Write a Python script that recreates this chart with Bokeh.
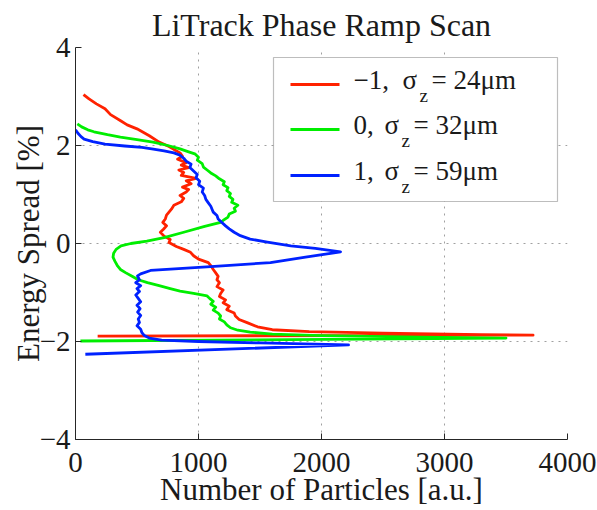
from bokeh.plotting import figure
from bokeh.models import Range1d, FixedTicker, BoxAnnotation, Label
from bokeh.embed import file_html
from bokeh.resources import INLINE

# ---------------- data ----------------
phase_labels = ["−1", "0", "1"]
sigma_um = [24, 32, 59]
colors = ["#ff2200", "#00ee00", "#0022ff"]

red_e = [3.04, 2.95, 2.85, 2.75, 2.63, 2.5, 2.42, 2.34, 2.2, 2.07, 1.98, 1.92, 1.85, 1.78,
         1.72, 1.65, 1.6, 1.55, 1.5, 1.45, 1.39, 1.33, 1.28, 1.22, 1.15, 1.1, 1.05, 0.98,
         0.92, 0.85, 0.78, 0.7, 0.64, 0.58, 0.5, 0.43, 0.36, 0.29, 0.23, 0.15, 0.08, 0.02,
         -0.06, -0.12, -0.18, -0.25, -0.32, -0.39, -0.45, -0.53, -0.6, -0.67, -0.74, -0.8,
         -0.88, -0.95, -1.02, -1.08, -1.15, -1.21, -1.28, -1.35, -1.42, -1.48, -1.55, -1.62,
         -1.7, -1.76, -1.8, -1.83, -1.86, -1.87, -1.89]
red_n = [65, 110, 170, 240, 285, 370, 420, 500, 600, 680, 760, 800, 850, 870,
         830, 900, 860, 920, 840, 880, 860, 980, 900, 940, 870, 920, 900, 850,
         880, 860, 800, 780, 760, 740, 730, 710, 740, 715, 690, 720, 770, 760,
         820, 880, 935, 960, 1000, 1080, 1100, 1120, 1140, 1160, 1150, 1170,
         1150, 1200, 1180, 1170, 1220, 1200, 1250, 1230, 1290, 1300, 1330, 1400,
         1480, 1600, 1900, 2500, 3300, 3720, 180]

green_e = [2.44, 2.38, 2.32, 2.28, 2.22, 2.17, 2.12, 2.07, 2.0, 1.93, 1.87, 1.83, 1.76,
           1.7, 1.63, 1.56, 1.5, 1.44, 1.38, 1.32, 1.26, 1.2, 1.14, 1.08, 1.02, 0.96,
           0.9, 0.84, 0.78, 0.72, 0.66, 0.6, 0.54, 0.47, 0.43, 0.35, 0.23, 0.12, 0.05,
           0.0, -0.05, -0.12, -0.2, -0.28, -0.36, -0.45, -0.53, -0.6, -0.67, -0.74, -0.8,
           -0.86, -0.92, -0.97, -1.02, -1.07, -1.12, -1.18, -1.24, -1.3, -1.36, -1.42,
           -1.48, -1.54, -1.6, -1.66, -1.72, -1.77, -1.81, -1.85, -1.88, -1.91, -1.93, -1.99]
green_n = [15, 50, 100, 150, 260, 365, 500, 630, 750, 850, 920, 970, 1000,
           990, 1030, 1040, 1070, 1100, 1140, 1170, 1210, 1200, 1240, 1230, 1260, 1250,
           1280, 1270, 1320, 1290, 1300, 1250, 1240, 1200, 1180, 1050, 880, 720, 580,
           450, 370, 330, 310, 305, 320, 340, 365, 410, 460, 510, 585,
           680, 770, 850, 960, 1070, 1090, 1120, 1100, 1140, 1120, 1160,
           1180, 1170, 1210, 1230, 1260, 1320, 1420, 1600, 2000, 2800, 3500, 40]

blue_e = [2.32, 2.25, 2.18, 2.13, 2.08, 2.03, 1.99, 1.96, 1.93, 1.89, 1.85, 1.8, 1.74,
          1.68, 1.62, 1.55, 1.48, 1.41, 1.34, 1.27, 1.2, 1.13, 1.05, 0.98, 0.9, 0.83,
          0.76, 0.7, 0.64, 0.57, 0.5, 0.43, 0.36, 0.3, 0.23, 0.16, 0.09, 0.03, -0.05,
          -0.1, -0.17, -0.28, -0.39, -0.47, -0.55, -0.62, -0.66, -0.74, -0.8, -0.86,
          -0.92, -0.98, -1.05, -1.12, -1.19, -1.26, -1.33, -1.4, -1.47, -1.54, -1.61,
          -1.68, -1.75, -1.82, -1.88, -1.93, -1.97, -2.0, -2.03, -2.07, -2.26]
blue_n = [0, 20, 45, 70, 140, 240, 400, 540, 620, 720, 800, 850, 880,
          900, 940, 930, 960, 990, 980, 1010, 1000, 1040, 1030, 1050, 1060, 1080,
          1100, 1110, 1120, 1150, 1160, 1190, 1220, 1250, 1290, 1340, 1420, 1560, 1750,
          1950, 2155, 1870, 1585, 1100, 610, 530, 504, 520, 490, 530,
          500, 520, 490, 510, 530, 500, 525, 505, 530, 510, 520,
          500, 530, 540, 560, 600, 700, 1000, 1500, 2220, 80]

x_ticks = [0, 1000, 2000, 3000, 4000]
y_ticks = [-4, -2, 0, 2, 4]

FONT = "Liberation Serif"
INK = "#1a1a1a"

# ---------------- figure ----------------
FRAME_W, FRAME_H = 492, 392
LEFT, RIGHT, TOP, BOTTOM = 75, 30, 45, 73

p = figure(width=LEFT + FRAME_W + RIGHT, height=TOP + FRAME_H + BOTTOM,
           frame_width=FRAME_W, frame_height=FRAME_H,
           min_border_left=LEFT, min_border_right=RIGHT,
           min_border_top=TOP, min_border_bottom=BOTTOM,
           x_range=Range1d(0, 4000), y_range=Range1d(-4, 4),
           output_backend="svg", toolbar_location=None,
           title="LiTrack Phase Ramp Scan")
p.background_fill_color = "white"
p.border_fill_color = "white"
p.outline_line_color = None

p.title.text_font = FONT
p.title.text_font_size = "32px"
p.title.text_font_style = "normal"
p.title.align = "center"
p.title.text_color = INK
p.title.standoff = 9

p.axis.major_label_text_font = FONT
p.axis.major_label_text_font_size = "29px"
p.axis.major_label_text_color = INK
p.axis.axis_label_text_font = FONT
p.axis.axis_label_text_font_size = "31px"
p.axis.axis_label_text_font_style = "normal"
p.axis.axis_label_text_color = INK
p.axis.axis_line_color = "#262626"
p.axis.major_tick_line_color = "#262626"
p.axis.major_tick_in = 6
p.axis.major_tick_out = 0
p.axis.minor_tick_line_color = None

p.xaxis.ticker = FixedTicker(ticks=x_ticks)
p.yaxis.ticker = FixedTicker(ticks=y_ticks)
p.yaxis.major_label_overrides = {t: str(t).replace("-", "−") for t in y_ticks}
p.xaxis.axis_label = "Number of Particles [a.u.]"
p.yaxis.axis_label = "Energy Spread [%]"
p.xaxis.major_label_standoff = 13
p.xaxis.axis_label_standoff = -3
p.yaxis.major_label_standoff = 5
p.yaxis.axis_label_standoff = -9

for g in (p.xgrid[0], p.ygrid[0]):
    g.grid_line_color = "#a0a0a0"
    g.grid_line_dash = "2 5"
    g.grid_line_width = 1
p.xgrid.ticker = FixedTicker(ticks=x_ticks)
p.ygrid.ticker = FixedTicker(ticks=y_ticks)

series = [(red_n, red_e), (green_n, green_e), (blue_n, blue_e)]
for (n, e), c in zip(series, colors):
    p.line(n, e, line_color=c, line_width=2.8, line_join="round")

# ---------------- legend (hand-built, for the subscripted sigma) ----------------
def X(px):  # picture pixel -> data x
    return (px - LEFT) * 4000.0 / FRAME_W

def Y(py):  # picture pixel -> data y
    return 4 - (py - TOP) * 8.0 / FRAME_H

p.add_layout(BoxAnnotation(left=X(273), right=X(557), top=Y(55), bottom=Y(199),
                           fill_color="white", fill_alpha=1.0,
                           line_color="#262626", line_width=1.2, level="annotation"))

row_y = [82, 127, 173]
sigma_x = [402, 384, 384]
for i in range(3):
    p.segment(x0=[X(290)], y0=[Y(row_y[i])], x1=[X(339)], y1=[Y(row_y[i])],
              line_color=colors[i], line_width=3, level="overlay")
    base = row_y[i] - 5
    common = dict(text_font=FONT, text_color=INK, text_baseline="alphabetic",
                  level="overlay")
    p.add_layout(Label(x=X(353), y=Y(base), text=phase_labels[i] + ",",
                       text_font_size="27px", **common))
    p.add_layout(Label(x=X(sigma_x[i]), y=Y(base), text="σ",
                       text_font_size="27px", **common))
    p.add_layout(Label(x=X(sigma_x[i] + 17), y=Y(base + 16), text="z",
                       text_font_size="19px", **common))
    p.add_layout(Label(x=X(sigma_x[i] + 29), y=Y(base), text="= %dμm" % sigma_um[i],
                       text_font_size="27px", **common))

open("out.html", "w").write(file_html(p, INLINE))
